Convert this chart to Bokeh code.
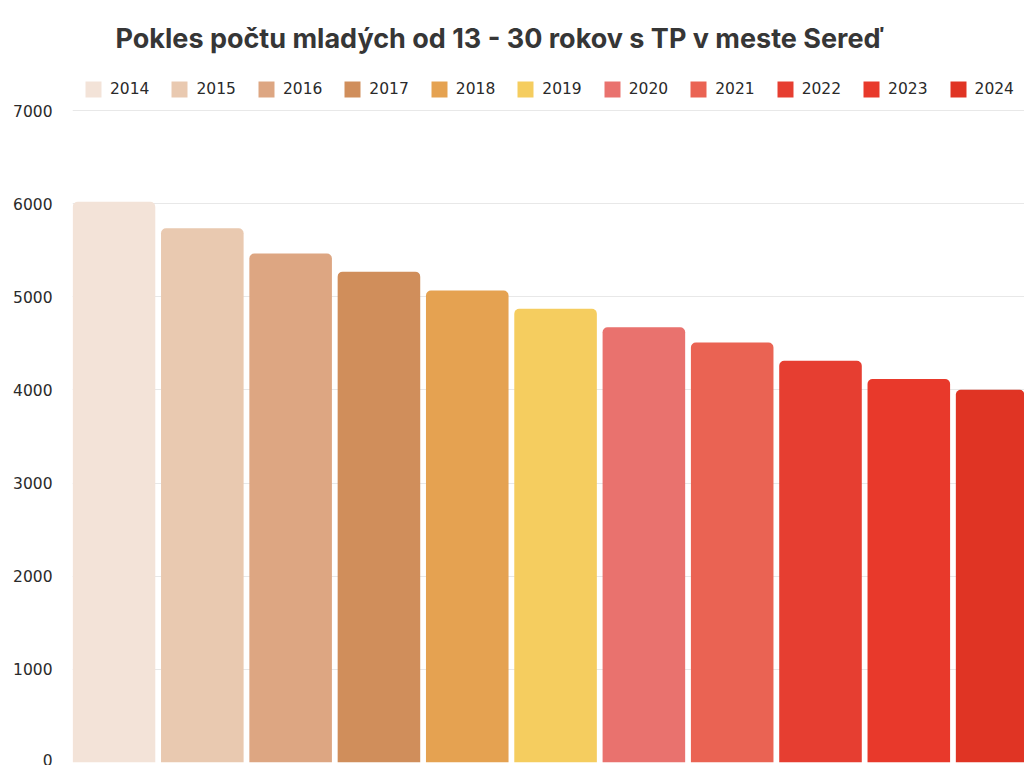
from bokeh.plotting import figure
from bokeh.models import ColumnDataSource, Range1d, FixedTicker, Label, Legend, LegendItem
from bokeh.embed import file_html
from bokeh.resources import INLINE

years = [2014, 2015, 2016, 2017, 2018, 2019, 2020, 2021, 2022, 2023, 2024]
labels = [str(y) for y in years]
counts = [6020, 5735, 5465, 5270, 5068, 4872, 4672, 4508, 4312, 4118, 4002]
colors = ["#F3E3D8", "#E9C9B0", "#DDA682", "#D08E5B", "#E5A251", "#F5CD5F",
          "#E9726E", "#EA6353", "#E63E31", "#E8392B", "#E03424"]
y_ticks = [0, 1000, 2000, 3000, 4000, 5000, 6000, 7000]
title_text = "Pokles počtu mladých od 13 - 30 rokov s TP v meste Sereď"

src = ColumnDataSource(dict(x=years, top=counts, color=colors, label=labels))

p = figure(width=1024, height=765, output_backend="svg", toolbar_location=None,
           x_range=Range1d(2013.53, 2024.31), y_range=Range1d(0, 8181),
           min_border_top=0, min_border_bottom=3, min_border_left=72, min_border_right=0)
p.outline_line_color = None
p.background_fill_color = "white"

r = p.vbar(x="x", top="top", width=0.935, bottom=0, color="color", source=src,
           line_color=None, border_radius=(5, 5, 0, 0))

p.xaxis.visible = False
p.xgrid.grid_line_color = None
p.ygrid.grid_line_color = "#E8E8E8"
p.ygrid.ticker = FixedTicker(ticks=y_ticks)
p.yaxis.ticker = FixedTicker(ticks=y_ticks)
p.yaxis.axis_line_color = None
p.yaxis.major_tick_line_color = None
p.yaxis.minor_tick_line_color = None
p.yaxis.major_label_text_font = "DejaVu Sans"
p.yaxis.major_label_text_font_size = "15.5px"
p.yaxis.major_label_text_color = "#2a2a2a"
p.yaxis.major_label_standoff = 14

items = [LegendItem(label=l, renderers=[r], index=i) for i, l in enumerate(labels)]
legend = Legend(items=items, orientation="horizontal", location=(11, 663),
                glyph_width=20, glyph_height=20, label_standoff=7, spacing=20,
                padding=0, margin=0, border_line_color=None, background_fill_alpha=0,
                label_text_font="DejaVu Sans", label_text_font_size="15.5px",
                label_text_color="#2a2a2a", label_height=20)
p.add_layout(legend)

p.add_layout(Label(x=43, y=724, x_units="screen", y_units="screen", text=title_text,
                   text_font="Inter", text_font_style="bold", text_font_size="27px",
                   text_color="#363636", text_baseline="alphabetic"))

open("out.html", "w").write(file_html(p, INLINE))
